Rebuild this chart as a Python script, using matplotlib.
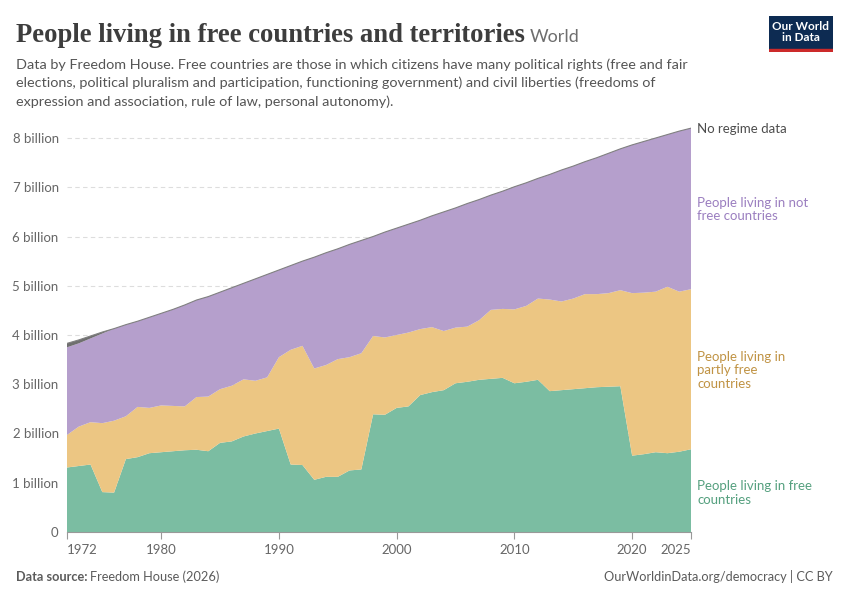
import matplotlib
matplotlib.use('Agg')
import matplotlib.pyplot as plt
import numpy as np

# ---- data (billions of people) ----
years = list(range(1972, 2026))

free = [1.31, 1.34, 1.37, 0.81, 0.80, 1.48, 1.52, 1.60, 1.62, 1.64,
        1.66, 1.67, 1.64, 1.81, 1.84, 1.94, 2.00, 2.05, 2.10, 1.37,
        1.36, 1.06, 1.12, 1.12, 1.25, 1.27, 2.39, 2.38, 2.52, 2.55,
        2.78, 2.84, 2.88, 3.02, 3.05, 3.09, 3.11, 3.13, 3.02, 3.05,
        3.09, 2.86, 2.88, 2.90, 2.92, 2.94, 2.95, 2.96, 1.55, 1.58,
        1.62, 1.60, 1.63, 1.68]

partly_free = [0.66, 0.80, 0.86, 1.40, 1.46, 0.87, 1.02, 0.92, 0.95, 0.92,
               0.89, 1.07, 1.11, 1.09, 1.13, 1.16, 1.07, 1.09, 1.45, 2.33,
               2.42, 2.26, 2.27, 2.39, 2.30, 2.36, 1.59, 1.57, 1.48, 1.50,
               1.34, 1.32, 1.20, 1.13, 1.12, 1.21, 1.40, 1.40, 1.50, 1.54,
               1.65, 1.86, 1.80, 1.84, 1.91, 1.89, 1.90, 1.95, 3.30, 3.28,
               3.26, 3.38, 3.25, 3.25]

not_free = [1.78, 1.69, 1.70, 1.82, 1.87, 1.86, 1.74, 1.84, 1.87, 1.96,
            2.06, 1.97, 2.03, 1.97, 1.99, 1.95, 2.07, 2.09, 1.77, 1.71,
            1.72, 2.26, 2.28, 2.24, 2.29, 2.29, 2.02, 2.14, 2.17, 2.20,
            2.21, 2.26, 2.42, 2.43, 2.50, 2.45, 2.33, 2.39, 2.49, 2.50,
            2.44, 2.54, 2.67, 2.69, 2.69, 2.77, 2.84, 2.87, 3.01, 3.07,
            3.12, 3.09, 3.26, 3.27]

no_data = [0.08, 0.07, 0.05, 0.03] + [0.0] * 50

y_ticks = [0, 1, 2, 3, 4, 5, 6, 7, 8]
y_labels = ['0'] + ['%d billion' % v for v in y_ticks[1:]]
x_ticks = [1972, 1980, 1990, 2000, 2010, 2020, 2025]

# ---- colours ----
green = '#7bbda2'
orange = '#ecc683'
purple = '#b59fcc'
grey = '#6f6f6f'
text_grey = '#5b5b5b'

FONT = 'Lato'

fig = plt.figure(figsize=(8.5, 6), dpi=100)
fig.patch.set_facecolor('white')
ax = fig.add_axes([67 / 850, 68 / 600, 624 / 850, 8.4 * 49.25 / 600])

ax.stackplot(years, free, partly_free, not_free, no_data,
             colors=[green, orange, purple, grey], linewidth=0)
total = np.array(free) + np.array(partly_free) + np.array(not_free) + np.array(no_data)
ax.plot(years, total, color='#808080', linewidth=0.8)

ax.set_xlim(1972, 2025)
ax.set_ylim(0, 8.4)

ax.set_yticks(y_ticks)
ax.set_yticklabels(y_labels, fontfamily=FONT, fontsize=9.5, color='#666666')
ax.set_xticks(x_ticks)
xl = ax.set_xticklabels([str(v) for v in x_ticks], fontfamily=FONT, fontsize=9.5, color='#666666')
xl[0].set_ha('left')
xl[-1].set_ha('right')
ax.tick_params(axis='y', length=0, pad=6)
ax.tick_params(axis='x', length=5, width=0.8, color='#999999', pad=4)

ax.grid(axis='y', color='#dddddd', linestyle=(0, (4, 3)), linewidth=0.8)
ax.set_axisbelow(True)
for s in ['top', 'right', 'left']:
    ax.spines[s].set_visible(False)
ax.spines['bottom'].set_color('#999999')
ax.spines['bottom'].set_linewidth(0.8)

# right-hand labels
lab_x = 697
def flabel(y_px, txt, col):
    fig.text(lab_x / 850, 1 - y_px / 600, txt, fontfamily=FONT, fontsize=9.5,
             color=col, va='top', ha='left', linespacing=1.15)

flabel(123, 'No regime data', '#4d4d4d')
flabel(197, 'People living in not\nfree countries', '#9b7fc0')
flabel(351, 'People living in\npartly free\ncountries', '#c09344')
flabel(480, 'People living in free\ncountries', '#55a07f')

# title / subtitle
renderer = fig.canvas.get_renderer()
title = fig.text(16 / 850, 1 - 42 / 600, 'People living in free countries and territories',
                 fontfamily='Liberation Serif', fontweight='bold', fontsize=19.2,
                 color='#3d3d3d', va='baseline', ha='left')
tb = title.get_window_extent(renderer)
fig.text((tb.x1 + 5) / 850, 1 - 42 / 600, 'World', fontfamily=FONT, fontsize=13,
         color='#6e6e6e', va='baseline', ha='left')

subtitle = ('Data by Freedom House. Free countries are those in which citizens have many political rights (free and fair\n'
            'elections, political pluralism and participation, functioning government) and civil liberties (freedoms of\n'
            'expression and association, rule of law, personal autonomy).')
fig.text(16 / 850, 1 - 58 / 600, subtitle, fontfamily=FONT, fontsize=10.4,
         color='#555555', va='top', ha='left', linespacing=1.58)

# logo
logo = fig.add_axes([769 / 850, 1 - 52 / 600, 64 / 850, 36 / 600])
logo.set_xlim(0, 1)
logo.set_ylim(0, 1)
logo.axis('off')
logo.add_patch(plt.Rectangle((0, 0.08), 1, 0.92, color='#0d2b52'))
logo.add_patch(plt.Rectangle((0, 0), 1, 0.08, color='#cc2a2a'))
logo.text(0.5, 0.55, 'Our World\nin Data', color='white', fontfamily=FONT,
          fontweight='bold', fontsize=8.5, ha='center', va='center', linespacing=1.0)

# footer
src = fig.text(16 / 850, 1 - 581 / 600, 'Data source:', fontfamily=FONT, fontweight='bold',
               fontsize=9.2, color=text_grey, ha='left', va='baseline')
sb = src.get_window_extent(renderer)
fig.text((sb.x1 + 3) / 850, 1 - 581 / 600, 'Freedom House (2026)', fontfamily=FONT,
         fontsize=9.2, color=text_grey, ha='left', va='baseline')
fig.text(833 / 850, 1 - 581 / 600, 'OurWorldinData.org/democracy | CC BY', fontfamily=FONT,
         fontsize=9.2, color=text_grey, ha='right', va='baseline')

plt.savefig('out.png', dpi=100, facecolor=fig.get_facecolor())
plt.close()
